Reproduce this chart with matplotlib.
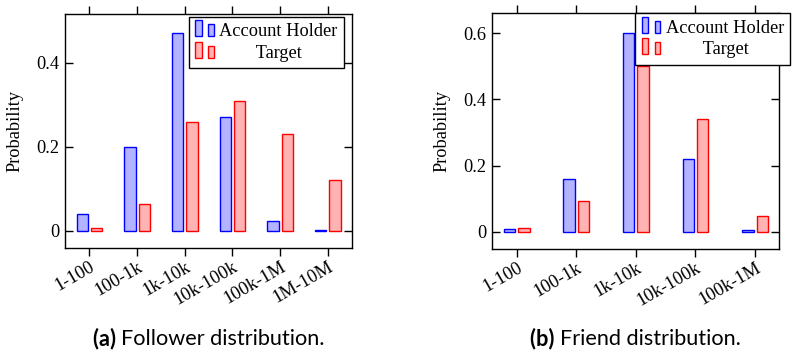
import matplotlib
matplotlib.use("Agg")
import matplotlib.pyplot as plt
import matplotlib.transforms as mtransforms
import numpy as np
from matplotlib.legend_handler import HandlerBase
from matplotlib.patches import Rectangle
from matplotlib.ticker import FuncFormatter

plt.rcParams['font.family'] = ['Liberation Serif', 'DejaVu Serif']

follower_bins = ['1-100', '100-1k', '1k-10k', '10k-100k', '100k-1M', '1M-10M']
follower_holder = [0.04, 0.20, 0.47, 0.27, 0.023, 0.003]
follower_target = [0.007, 0.063, 0.26, 0.31, 0.23, 0.12]

friend_bins = ['1-100', '100-1k', '1k-10k', '10k-100k', '100k-1M']
friend_holder = [0.009, 0.16, 0.60, 0.22, 0.006]
friend_target = [0.011, 0.094, 0.50, 0.34, 0.048]

BLUE_FACE = '#b3b3ff'
RED_FACE = '#ffb3b3'
FS = 13.2


class BarPair(HandlerBase):
    # pgfplots style ybar legend: two little bars
    def create_artists(self, legend, orig_handle, xdescent, ydescent,
                       width, height, fontsize, trans):
        fc = orig_handle.get_facecolor()
        ec = orig_handle.get_edgecolor()
        w = width * 0.36
        r1 = Rectangle((-xdescent, -ydescent), w, height * 1.25,
                       facecolor=fc, edgecolor=ec, lw=1.0, transform=trans)
        r2 = Rectangle((-xdescent + width - w * 0.85, -ydescent), w * 0.85, height * 0.95,
                       facecolor=fc, edgecolor=ec, lw=1.0, transform=trans)
        return [r1, r2]


def draw_panel(ax, bins, holder, target, xlim, ylim, yticks, legend_anchor):
    x = np.arange(len(bins))
    # bar width / shift fixed in pixels like pgfplots
    ax_w_px = ax.get_position().width * fig.get_figwidth() * fig.dpi
    unit = ax_w_px / (xlim[1] - xlim[0])
    bw = 11.3 / unit
    sh = 7.2 / unit
    b1 = ax.bar(x - sh, holder, bw, color=BLUE_FACE, edgecolor='blue', lw=1.0)
    b2 = ax.bar(x + sh, target, bw, color=RED_FACE, edgecolor='red', lw=1.0)
    ax.set_xlim(*xlim)
    ax.set_ylim(*ylim)
    ax.set_xticks(x)
    ax.set_xticklabels(bins, rotation=30, ha='right', rotation_mode='anchor', fontsize=FS)
    shift = mtransforms.ScaledTranslation(-4 / 72, 0, fig.dpi_scale_trans)
    for lab in ax.get_xticklabels():
        lab.set_transform(lab.get_transform() + shift)
    ax.set_yticks(yticks)
    ax.yaxis.set_major_formatter(FuncFormatter(lambda v, p: '%g' % v))
    ax.tick_params(axis='x', direction='out', top=True, length=5.8, width=1, pad=1.5)
    ax.tick_params(axis='y', direction='in', right=True, length=5.8, width=1, pad=4.3, labelsize=FS)
    for s in ax.spines.values():
        s.set_linewidth(1.0)
    ax.set_ylabel('Probability', fontsize=FS, labelpad=9)
    leg = ax.legend([b1.patches[0], b2.patches[0]], ['Account Holder', '        Target'],
                    handler_map={Rectangle: BarPair()},
                    loc='upper right', bbox_to_anchor=legend_anchor,
                    fontsize=FS, frameon=True, fancybox=False, framealpha=1,
                    edgecolor='black', handlelength=1.0, handletextpad=0.3,
                    borderpad=0.35, labelspacing=0.25, borderaxespad=0)
    leg.get_frame().set_linewidth(1.0)


fig = plt.figure(figsize=(7.94, 3.51), dpi=100)
ax1 = fig.add_axes([0.0819, 0.2934, 0.3611, 0.6666])
ax2 = fig.add_axes([0.620, 0.2906, 0.361, 0.6714])

draw_panel(ax1, follower_bins, follower_holder, follower_target,
           (-0.51, 5.5), (-0.041, 0.516), [0, 0.2, 0.4], (0.972, 0.988))
draw_panel(ax2, friend_bins, friend_holder, friend_target,
           (-0.41, 4.4), (-0.052, 0.66), [0, 0.2, 0.4, 0.6], (1.04, 1.0))

# captions: bold tag + normal text, centred under each axes
cap_font = ['Lato', 'DejaVu Sans']
renderer = fig.canvas.get_renderer()
for ax, tag, txt in [(ax1, '(a)', 'Follower distribution.'),
                     (ax2, '(b)', 'Friend distribution.')]:
    pos = ax.get_position()
    xc = (pos.x0 + pos.x1) / 2
    t1 = fig.text(0, 0.017, tag + ' ', fontsize=15.6, family=cap_font, weight='bold',
                  ha='left', va='baseline')
    t2 = fig.text(0, 0.017, txt, fontsize=15.6, family=cap_font, ha='left', va='baseline')
    w1 = t1.get_window_extent(renderer).width / fig.bbox.width
    w2 = t2.get_window_extent(renderer).width / fig.bbox.width
    x0 = xc - (w1 + w2) / 2
    t1.set_x(x0)
    t2.set_x(x0 + w1)

fig.savefig('out.png', dpi=100)
